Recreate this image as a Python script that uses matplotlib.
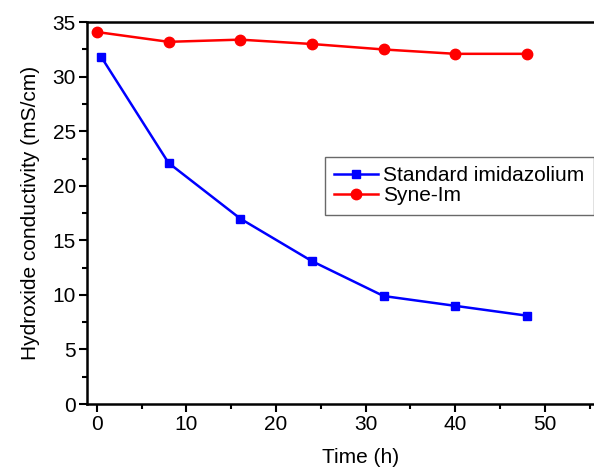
import matplotlib
matplotlib.use('Agg')
import matplotlib.pyplot as plt
from matplotlib.ticker import MultipleLocator

plt.rcParams['font.family'] = ['Liberation Sans', 'DejaVu Sans']

time_red = [0, 8, 16, 24, 32, 40, 48]
syne_im = [34.1, 33.2, 33.4, 33.0, 32.5, 32.1, 32.1]
time_blue = [0.5, 8, 16, 24, 32, 40, 48]
standard = [31.8, 22.1, 17.0, 13.1, 9.9, 9.0, 8.1]

fig = plt.figure(figsize=(5.94, 4.72), dpi=100)
# axes runs past the right edge, as in the cropped original
ax = fig.add_axes([0.1465, 0.144, 0.92, 0.809])

ax.plot(time_blue, standard, color='#0000ff', lw=1.8, marker='s', ms=6,
        label='Standard imidazolium')
ax.plot(time_red, syne_im, color='#ff0000', lw=1.8, marker='o', ms=7.5,
        label='Syne-Im')

ax.set_xlim(-1.1, 59.9)
ax.set_ylim(0, 35)
ax.xaxis.set_major_locator(MultipleLocator(10))
ax.xaxis.set_minor_locator(MultipleLocator(5))
ax.yaxis.set_major_locator(MultipleLocator(5))
ax.yaxis.set_minor_locator(MultipleLocator(2.5))
ax.tick_params(which='both', direction='out', width=1.5, labelsize=15,
               top=False, right=False)
ax.tick_params(which='major', length=6, pad=2)
ax.tick_params(which='minor', length=3.5)
for s in ax.spines.values():
    s.set_linewidth(1.8)

ax.set_xlabel('Time (h)', fontsize=15, labelpad=10)
ax.set_ylabel('Hydroxide conductivity (mS/cm)', fontsize=15, labelpad=9)

leg = ax.legend(loc='upper left', bbox_to_anchor=(0.435, 0.647), fontsize=15,
                frameon=True, fancybox=False, edgecolor='#444444',
                handlelength=2.1, borderpad=0.45, labelspacing=0.05,
                handletextpad=0.25, borderaxespad=0)
leg.get_frame().set_linewidth(1.0)

fig.savefig('out.png', dpi=100)
